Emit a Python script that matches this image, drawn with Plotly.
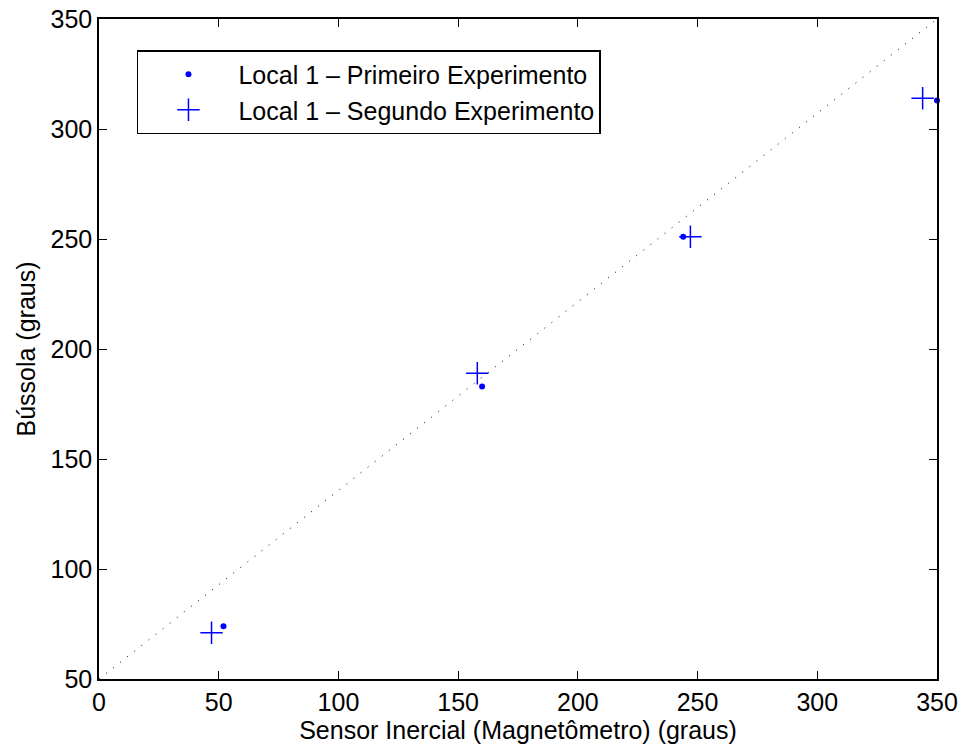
import plotly.graph_objects as go

# Compass heading vs. magnetometer heading, two runs at site 1
sensor_exp1 = [52, 160, 244, 350]
bussola_exp1 = [74, 183, 251, 313]

sensor_exp2 = [47, 158, 247, 344]
bussola_exp2 = [71, 189, 251, 314]

# Reference diagonal across the axes box
ref_x = [0, 350]
ref_y = [50, 350]

x_ticks = [0, 50, 100, 150, 200, 250, 300, 350]
y_ticks = [50, 100, 150, 200, 250, 300, 350]

FONT = "Liberation Sans, Arial, Helvetica, sans-serif"
FS = 25
BLUE = "rgb(0,0,255)"

fig = go.Figure()

fig.add_trace(go.Scatter(
    x=ref_x, y=ref_y, mode="lines",
    line=dict(color="black", width=1, dash="1px,8px"),
    showlegend=False, hoverinfo="skip",
))

fig.add_trace(go.Scatter(
    x=sensor_exp1, y=bussola_exp1, mode="markers",
    name="Local 1 \u2013 Primeiro Experimento",
    marker=dict(symbol="circle", size=6, color=BLUE),
    cliponaxis=False,
))

fig.add_trace(go.Scatter(
    x=sensor_exp2, y=bussola_exp2, mode="markers",
    name="Local 1 \u2013 Segundo Experimento",
    marker=dict(symbol="cross-thin", size=16, color=BLUE,
                line=dict(color=BLUE, width=1.5)),
    cliponaxis=False,
))

axis_common = dict(
    showgrid=False, zeroline=False, automargin=False,
    showline=True, linecolor="black", linewidth=1.5, mirror="allticks",
    ticks="inside", ticklen=8, tickwidth=1, tickcolor="black",
    tickfont=dict(family=FONT, size=FS, color="black"),
)

fig.update_xaxes(
    range=[0, 350], tickvals=x_ticks, ticktext=[str(v) for v in x_ticks],
    title=dict(text="Sensor Inercial (Magnetômetro) (graus)",
               font=dict(family=FONT, size=FS, color="black"), standoff=6),
    **axis_common,
)
fig.update_yaxes(
    range=[50, 350], tickvals=y_ticks, ticktext=[str(v) for v in y_ticks],
    title=dict(text="Bússola (graus)",
               font=dict(family=FONT, size=FS, color="black"), standoff=8),
    **axis_common,
)

fig.update_layout(
    width=961, height=747,
    margin=dict(l=99, r=24, t=19, b=68),
    paper_bgcolor="white", plot_bgcolor="white",
    font=dict(family=FONT, size=FS, color="black"),
    legend=dict(
        x=0.0453, y=0.953, xanchor="left", yanchor="top",
        bgcolor="white", bordercolor="black", borderwidth=1.5,
        font=dict(family=FONT, size=FS, color="black"),
        itemwidth=90, tracegroupgap=0,
    ),
)

fig.write_html("out.html")
